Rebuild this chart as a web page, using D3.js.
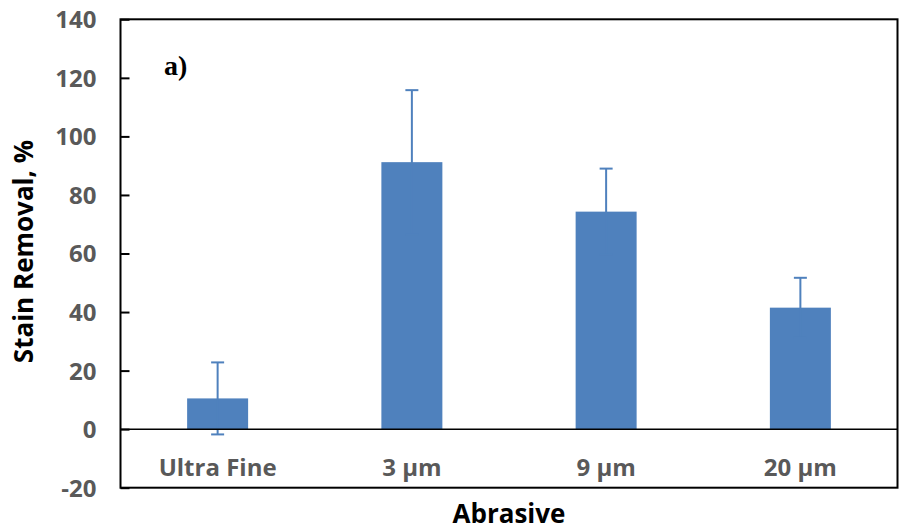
<!DOCTYPE html>
<html>
<head>
<meta charset="utf-8">
<script src="https://cdn.jsdelivr.net/npm/d3@7"></script>
<style>
  html, body { margin: 0; padding: 0; background: #fff; }
  svg { display: block; }
</style>
</head>
<body>
<svg id="chart" width="905" height="530"></svg>
<script>
const categories = ["Ultra Fine", "3 µm", "9 µm", "20 µm"];
const values = [10.5, 91.2, 74.3, 41.5];
const errors = [12.3, 24.6, 14.7, 10.2];
const yTicks = [-20, 0, 20, 40, 60, 80, 100, 120, 140];
const panelLabel = "a)";
const xTitle = "Abrasive";
const yTitle = "Stain Removal, %";

const svg = d3.select("#chart");
const m = { left: 120.5, right: 7.5, top: 19.3, bottom: 42.3 };
const W = 905, H = 530;
const iw = W - m.left - m.right, ih = H - m.top - m.bottom;

const x = d3.scaleBand().domain(categories).range([m.left, m.left + iw])
  .paddingInner(0.686).paddingOuter(0.343);
const y = d3.scaleLinear().domain([-20, 140]).range([m.top + ih, m.top]);

const blue = "#4f81bd";
const grey = "#595959";
const font = "'Open Sans', 'Noto Sans', sans-serif";

// bars
svg.append("g").selectAll("rect").data(values).join("rect")
  .attr("x", (d, i) => x(categories[i]))
  .attr("width", x.bandwidth())
  .attr("y", d => y(Math.max(0, d)))
  .attr("height", d => Math.abs(y(d) - y(0)))
  .attr("fill", blue);

// error bars
const eg = svg.append("g").attr("stroke", blue).attr("stroke-width", 2);
values.forEach((v, i) => {
  const cx = x(categories[i]) + x.bandwidth() / 2;
  eg.append("line").attr("x1", cx).attr("x2", cx).attr("y1", y(v - errors[i])).attr("y2", y(v + errors[i]));
  [v - errors[i], v + errors[i]].forEach(e => {
    eg.append("line").attr("x1", cx - 6.5).attr("x2", cx + 6.5).attr("y1", y(e)).attr("y2", y(e));
  });
});

// zero line
svg.append("line").attr("x1", m.left).attr("x2", m.left + iw)
  .attr("y1", y(0)).attr("y2", y(0)).attr("stroke", "#000").attr("stroke-width", 1.5);

// y axis
const yAxis = d3.axisLeft(y).tickValues(yTicks).tickSize(0).tickPadding(0).tickFormat(d => String(d));
const yg = svg.append("g").attr("transform", `translate(${m.left},0)`).call(yAxis);
yg.select(".domain").remove();
yg.selectAll(".tick text").attr("x", -24).attr("dy", "0.35em")
  .attr("fill", grey).attr("font-family", font).attr("font-weight", "bold").attr("font-size", 24);
yg.selectAll(".tick").append("line").attr("x1", 0).attr("x2", 9)
  .attr("stroke", "#000").attr("stroke-width", 2);

// x labels
svg.append("g").selectAll("text").data(categories).join("text")
  .attr("x", d => x(d) + x.bandwidth() / 2)
  .attr("y", 475.5)
  .attr("text-anchor", "middle")
  .attr("fill", grey).attr("font-family", font).attr("font-weight", "bold").attr("font-size", 24)
  .text(d => d);

// frame
svg.append("rect").attr("x", m.left).attr("y", m.top).attr("width", iw).attr("height", ih)
  .attr("fill", "none").attr("stroke", "#000").attr("stroke-width", 2);

// titles
svg.append("text").attr("x", m.left + iw / 2).attr("y", 522.5).attr("text-anchor", "middle")
  .attr("font-family", font).attr("font-weight", "bold").attr("font-size", 26).attr("fill", "#000")
  .text(xTitle);
svg.append("text").attr("transform", "translate(33,251.5) rotate(-90)").attr("text-anchor", "middle")
  .attr("font-family", font).attr("font-weight", "bold").attr("font-size", 26).attr("fill", "#000")
  .text(yTitle);

svg.append("text").attr("x", 164).attr("y", 75).attr("font-family", "'Liberation Serif', serif")
  .attr("font-weight", "bold").attr("font-size", 28).attr("fill", "#000").text(panelLabel);
</script>
</body>
</html>
